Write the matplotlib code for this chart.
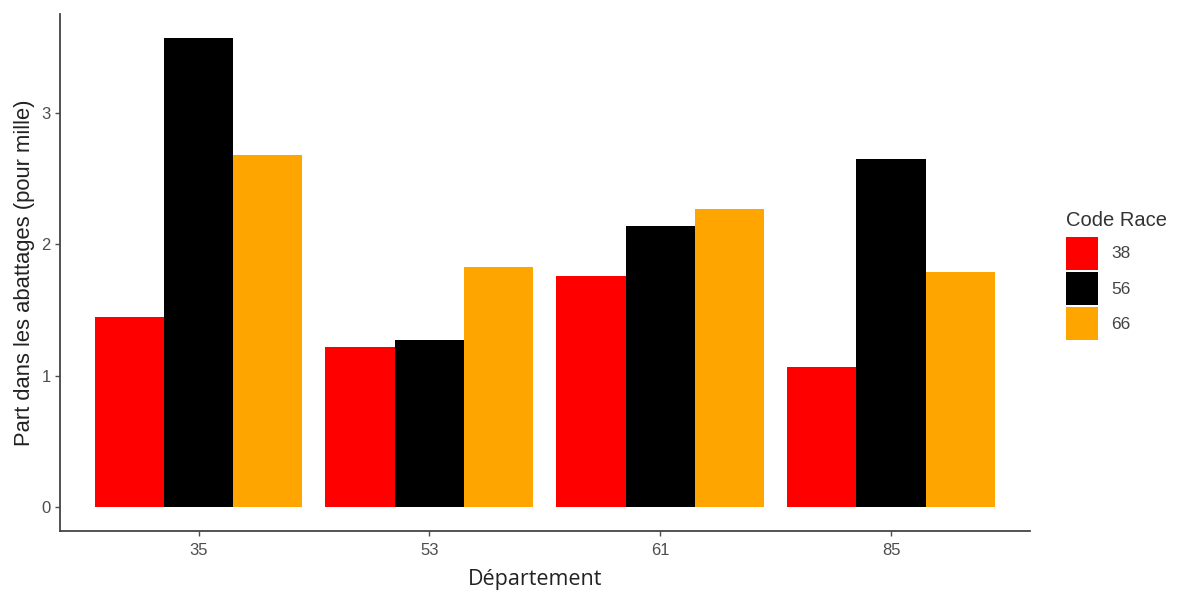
import numpy as np
import matplotlib.pyplot as plt
from matplotlib.patches import Patch

plt.rcParams['font.family'] = ['Liberation Sans', 'DejaVu Sans']

# data
departements = ['35', '53', '61', '85']
races = ['38', '56', '66']
race_colors = ['#FF0000', '#000000', '#FFA500']
values = {
    '38': [1.45, 1.22, 1.76, 1.07],
    '56': [3.57, 1.27, 2.14, 2.65],
    '66': [2.68, 1.83, 2.27, 1.79],
}

fig = plt.figure(figsize=(11.81, 5.92), dpi=100)
ax = fig.add_axes([0.0508, 0.103, 0.821, 0.873])

x = np.arange(1, len(departements) + 1)
w = 0.9 / len(races)
for i, (race, col) in enumerate(zip(races, race_colors)):
    ax.bar(x + (i - 1) * w, values[race], width=w, color=col, linewidth=0)

ax.set_xlim(0.4, 4.6)
ax.set_ylim(-0.179, 3.75)
ax.set_xticks(x)
ax.set_xticklabels(departements)
ax.set_yticks([0, 1, 2, 3])

for s in ['top', 'right']:
    ax.spines[s].set_visible(False)
for s in ['left', 'bottom']:
    ax.spines[s].set_color('#444444')
    ax.spines[s].set_linewidth(1.3)
ax.tick_params(colors='#4D4D4D', labelsize=12, length=3.5, width=1)
ax.tick_params(axis='x', pad=5)
ax.tick_params(axis='y', pad=3)

ax.set_xlabel('Département', fontsize=15.5, color='#222222',
              family=['Open Sans', 'DejaVu Sans'])
ax.xaxis.label.set_verticalalignment('top')
ax.xaxis.set_label_coords(0.49, -0.074)
ax.set_ylabel('Part dans les abattages (pour mille)', fontsize=15.8,
              color='#222222', labelpad=5)

handles = [Patch(facecolor=c, edgecolor='none') for c in race_colors]
leg = fig.legend(handles, races, title='Code Race', loc='upper left',
                 bbox_to_anchor=(0.903, 0.644), frameon=False,
                 fontsize=12.5, title_fontsize=14.5, handlelength=1.84,
                 handleheight=2.55, handletextpad=0.75, labelspacing=0.115,
                 borderaxespad=0, borderpad=0)
leg._legend_box.align = 'left'
leg._legend_box.sep = 5
for t in leg.get_texts():
    t.set_color('#444444')
leg.get_title().set_color('#333333')

fig.savefig('out.png', dpi=100)
